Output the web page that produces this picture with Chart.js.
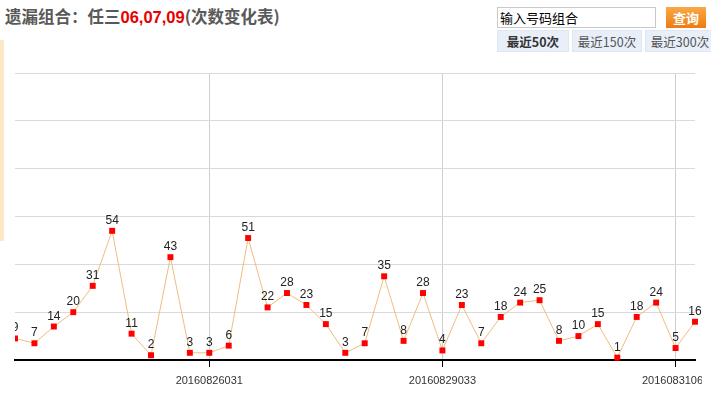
<!DOCTYPE html>
<html>
<head>
<meta charset="utf-8">
<script src="https://cdn.jsdelivr.net/npm/chart.js@4/dist/chart.umd.min.js"></script>
<style>
  body { margin: 0; width: 711px; height: 397px; overflow: hidden; background: #fff; position: relative;
         font-family: "Noto Sans CJK SC", "Liberation Sans", sans-serif; }
  .title { position: absolute; left: 5px; top: 5px; font-size: 16.5px; font-weight: bold; color: #595959; white-space: nowrap; line-height: 22px; }
  .title .red { color: #e60000; font-family: "Liberation Sans", Arial, sans-serif; }
  .search { position: absolute; left: 497px; top: 7px; width: 155px; height: 19px; border: 1px solid #c9c9c9;
            font-size: 13px; line-height: 19px; color: #000; padding-left: 2px; box-sizing: content-box; }
  .btn { position: absolute; left: 666px; top: 7px; width: 40px; height: 21px; color: #fff; font-weight: bold;
         font-size: 13px; line-height: 21px; text-align: center;
         background: linear-gradient(#f9a845, #ee7c12); }
  .tab { position: absolute; top: 30px; height: 22px; line-height: 22px; font-size: 12.5px; color: #555;
         background: #e8eff9; border: 1px solid #dfe7f2; box-sizing: border-box; text-align: center; white-space: nowrap; }
  .tab b { color: #333; }
  .bar { position: absolute; left: 0; top: 40px; width: 4px; height: 201px; background: #fde8c4; }
  #wrap { position: absolute; left: 0; top: 0; width: 702px; height: 397px; overflow: hidden; }
</style>
</head>
<body>
<div class="title">遗漏组合：任三<span class="red">06,07,09</span>(次数变化表)</div>
<div class="search">输入号码组合</div>
<div class="btn">查询</div>
<div class="tab" style="left:497px;width:72px;"><b>最近50次</b></div>
<div class="tab" style="left:572px;width:70px;">最近150次</div>
<div class="tab" style="left:645px;width:70px;">最近300次</div>
<div class="bar"></div>
<div id="wrap"><canvas id="chart" width="702" height="397"></canvas></div>

<script>
// missed counts, one per draw (the visible part of the last 50)
const counts = [9, 7, 14, 20, 31, 54, 11, 2, 43, 3, 3, 6, 51, 22, 28, 23, 15, 3,
                7, 35, 8, 28, 4, 23, 7, 18, 24, 25, 8, 10, 15, 1, 18, 24, 5, 16];

// draw numbers shown under the axis (others unlabeled)
const periods = ['', '', '', '', '', '', '', '', '', '', '20160826031', '',
                 '', '', '', '', '', '', '', '', '', '', '20160829033', '',
                 '', '', '', '', '', '', '', '', '', '', '20160831067', ''];

const yTicks = [0, 20, 40, 60, 80, 100, 120];

const valueLabels = {
  id: 'valueLabels',
  afterDatasetsDraw(chart) {
    const ctx = chart.ctx;
    const area = chart.chartArea;
    const meta = chart.getDatasetMeta(0);
    ctx.save();
    ctx.beginPath();
    ctx.rect(area.left, 0, chart.width - area.left, chart.height);
    ctx.clip();
    ctx.font = '12px "Liberation Sans", Arial, sans-serif';
    ctx.fillStyle = '#222';
    ctx.textAlign = 'center';
    ctx.textBaseline = 'alphabetic';
    meta.data.forEach((pt, i) => {
      ctx.fillText(String(counts[i]), pt.x, pt.y - 7);
    });
    ctx.restore();
  }
};

new Chart(document.getElementById('chart'), {
  type: 'line',
  data: {
    labels: periods,
    datasets: [{
      data: counts,
      borderColor: '#efbc80',
      borderWidth: 1,
      tension: 0,
      pointStyle: 'rect',
      pointRadius: 4.2,
      pointBorderWidth: 0,
      pointBackgroundColor: '#ff0000',
      pointBorderColor: '#ff0000',
      clip: { left: 0, top: 10, right: 10, bottom: 5 }
    }]
  },
  options: {
    responsive: false,
    animation: false,
    layout: { padding: { left: 15, right: 6, top: 73, bottom: 0 } },
    plugins: { legend: { display: false }, tooltip: { enabled: false } },
    scales: {
      x: {
        offset: false,
        afterFit: s => { s.height = 37; },
        border: { color: '#000', width: 2 },
        grid: {
          color: c => (c.tick && c.tick.label) ? '#cfcfcf' : 'transparent',
          tickColor: c => (c.tick && c.tick.label) ? '#000' : 'transparent',
          tickLength: 7
        },
        ticks: {
          autoSkip: false,
          maxRotation: 0,
          padding: 7,
          color: '#333',
          font: { family: '"Liberation Sans", Arial, sans-serif', size: 11 }
        }
      },
      y: {
        min: yTicks[0],
        max: yTicks[yTicks.length - 1],
        afterFit: s => { s.width = 0; },
        afterBuildTicks: s => { s.ticks = yTicks.map(v => ({ value: v })); },
        border: { display: false },
        grid: { color: '#dadada', drawTicks: false },
        ticks: { display: false }
      }
    }
  },
  plugins: [valueLabels]
});
</script>
</body>
</html>
